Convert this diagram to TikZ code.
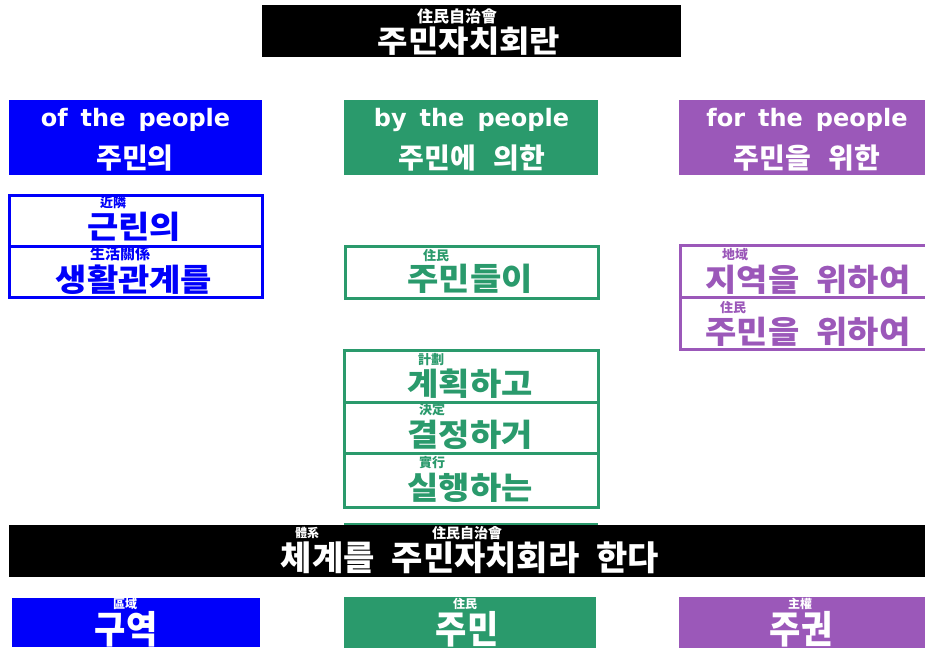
\documentclass[tikz,border=0pt]{standalone}
\usepackage{fontspec}
\newfontfamily\kr{Noto Sans CJK KR}
\newfontfamily\en{DejaVu Sans}
\definecolor{cblue}{RGB}{0,0,250}
\definecolor{cgreen}{RGB}{42,154,108}
\definecolor{cpurple}{RGB}{155,88,185}
\newcommand{\ksize}[1]{\fontsize{#1}{#1}\selectfont}
\newcommand{\wsp}[1]{\hspace{#1pt}}
\newcommand{\sq}[1]{\scalebox{1}[0.92]{#1}}
\tikzset{
  fbox/.style={rectangle, anchor=north west, inner sep=0pt, outer sep=0pt, fill=#1, draw=none},
  obox/.style={rectangle, anchor=north west, inner sep=0pt, outer sep=0pt, draw=#1, line width=3pt},
  ruby/.style={inner sep=0pt, font=\kr\bfseries\ksize{13}, text=#1},
  big/.style={inner sep=0pt, font=\kr\bfseries\ksize{34}, text=#1},
  head/.style={inner sep=0pt, font=\kr\bfseries\ksize{28}, text=white},
  eng/.style={inner sep=0pt, font=\en\bfseries\ksize{24}, text=white},
}
\begin{document}
\begin{tikzpicture}[x=1pt,y=-1pt]
\useasboundingbox (0,0) rectangle (925,650);
\fill[white] (0,0) rectangle (925,650);
\clip (0,0) rectangle (925,650);

% title
\node[fbox=black, minimum width=419pt, minimum height=52pt] (title) at (262,5) {};
\node[ruby=white, font=\kr\bfseries\ksize{16}] (titleruby) at (457,16) {住民自治會};
\node[big=white, font=\kr\bfseries\ksize{33}] (titletext) at (469,41) {\sq{주민자치회란}};

% headers
\node[fbox=cblue, minimum width=253pt, minimum height=75pt] (hblue) at (9,100) {};
\node[fbox=cgreen, minimum width=254pt, minimum height=75pt] (hgreen) at (344,100) {};
\node[fbox=cpurple, minimum width=260pt, minimum height=75pt] (hpurple) at (679,100) {};
\node[eng] (eblue) at (135.5,120) {of\wsp{13}the\wsp{13}people};
\node[eng] (egreen) at (471.5,120) {by\wsp{13}the\wsp{13}people};
\node[eng] (epurple) at (807,120) {for\wsp{13}the\wsp{13}people};
\node[head] (kblue) at (135,158) {주민의};
\node[head] (kgreen) at (472,158) {주민에\wsp{18}의한};
\node[head] (kpurple) at (807,158) {주민을\wsp{18}위한};

% blue outline box
\node[obox=cblue, minimum width=253pt, minimum height=51pt] (b1) at (9,195) {};
\node[obox=cblue, minimum width=253pt, minimum height=51pt] (b2) at (9,246) {};
\node[ruby=cblue] (b1r) at (113,203) {近隣};
\node[big=cblue] (b1t) at (134,227) {\sq{근린의}};
\node[ruby=cblue, font=\kr\bfseries\ksize{15}] (b2r) at (120,254) {生活關係};
\node[big=cblue] (b2t) at (134,280) {\sq{생활관계를}};

% green single box
\node[obox=cgreen, minimum width=253pt, minimum height=52pt] (g0) at (345,246) {};
\node[ruby=cgreen] (g0r) at (436,256) {住民};
\node[big=cgreen] (g0t) at (470,279) {\sq{주민들이}};

% purple outline boxes
\node[obox=cpurple, minimum width=260pt, minimum height=52pt] (p1) at (680,245) {};
\node[obox=cpurple, minimum width=260pt, minimum height=52pt] (p2) at (680,297) {};
\node[ruby=cpurple] (p1r) at (735,255) {地域};
\node[big=cpurple] (p1t) at (808,280) {\sq{지역을\wsp{17}위하여}};
\node[ruby=cpurple] (p2r) at (733,308) {住民};
\node[big=cpurple] (p2t) at (808,332) {\sq{주민을\wsp{17}위하여}};

% green stack
\node[obox=cgreen, minimum width=254pt, minimum height=52pt] (g1) at (344,350) {};
\node[obox=cgreen, minimum width=254pt, minimum height=51pt] (g2) at (344,402) {};
\node[obox=cgreen, minimum width=254pt, minimum height=54pt] (g3) at (344,453) {};
\node[ruby=cgreen] (g1r) at (431,360) {計劃};
\node[big=cgreen] (g1t) at (470,384) {\sq{계획하고}};
\node[ruby=cgreen] (g2r) at (432,410) {決定};
\node[big=cgreen] (g2t) at (470,435) {\sq{결정하거}};
\node[ruby=cgreen] (g3r) at (432,463) {實行};
\node[big=cgreen] (g3t) at (470,488) {\sq{실행하는}};

% thin green edge above banner
\coordinate (gl1) at (344,524);
\coordinate (gl2) at (598,524);
\draw[cgreen, line width=1.5pt] (gl1) -- (gl2);

% bottom banner
\node[fbox=black, minimum width=930pt, minimum height=52pt] (banner) at (9,525) {};
\node[ruby=white, font=\kr\bfseries\ksize{12}] (banr1) at (307,533) {體系};
\node[ruby=white, font=\kr\bfseries\ksize{14}] (banr2) at (467,533) {住民自治會};
\node[big=white] (bant) at (470,558) {체계를\wsp{17}주민자치회라\wsp{17}한다};

% bottom boxes
\node[fbox=cblue, minimum width=248pt, minimum height=49pt] (fblue) at (12,598) {};
\node[fbox=cgreen, minimum width=252pt, minimum height=51pt] (fgreen) at (344,597) {};
\node[fbox=cpurple, minimum width=260pt, minimum height=51pt] (fpurple) at (679,597) {};
\node[ruby=white, font=\kr\bfseries\ksize{12}] (fbr) at (125,604) {區域};
\node[big=white] (fbt) at (126,629) {\scalebox{1}[1.12]{구역}};
\node[ruby=white, font=\kr\bfseries\ksize{12}] (fgr) at (465,604) {住民};
\node[big=white] (fgt) at (467,629) {\scalebox{1}[1.12]{주민}};
\node[ruby=white, font=\kr\bfseries\ksize{12}] (fpr) at (800,604) {主權};
\node[big=white] (fpt) at (801,629) {\scalebox{1}[1.12]{주권}};
\end{tikzpicture}
\end{document}
